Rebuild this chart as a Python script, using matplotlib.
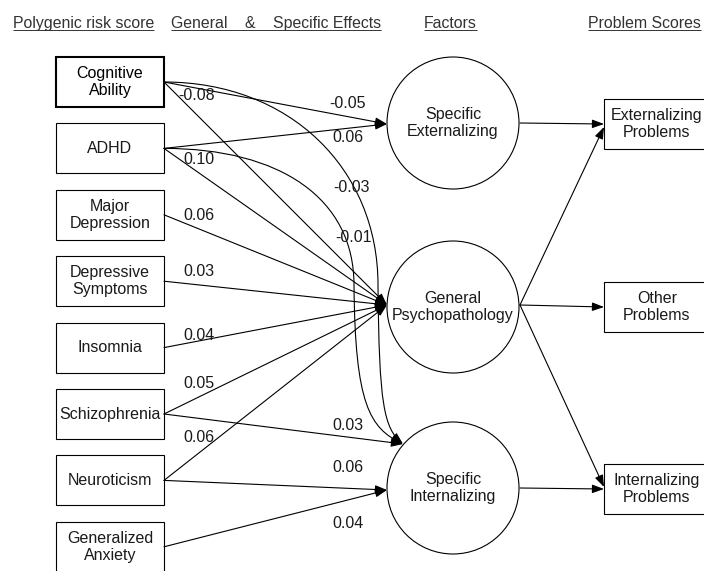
import matplotlib
matplotlib.use('Agg')
import matplotlib.pyplot as plt
from matplotlib.patches import Rectangle, Circle, FancyArrowPatch
from matplotlib.path import Path

plt.rcParams['font.family'] = ['Liberation Sans', 'DejaVu Sans']

# ---- data ----
headers = ['Polygenic risk score', 'General    &    Specific Effects', 'Factors', 'Problem Scores']
prs = ['Cognitive\nAbility', 'ADHD', 'Major\nDepression', 'Depressive\nSymptoms',
       'Insomnia', 'Schizophrenia', 'Neuroticism', 'Generalized\nAnxiety']
factors = ['Specific\nExternalizing', 'General\nPsychopathology', 'Specific\nInternalizing']
problems = ['Externalizing\nProblems', 'Other\nProblems', 'Internalizing\nProblems']

# PRS -> factor paths (source index, coefficient)
ext_from = [0, 1]
ext_coef = [-0.05, 0.06]
gen_from = [0, 1, 2, 3, 4, 5, 6]
gen_coef = [-0.08, 0.10, 0.06, 0.03, 0.04, 0.05, 0.06]
int_from = [0, 1, 5, 6, 7]
int_coef = [-0.03, -0.01, 0.03, 0.06, 0.04]
# factor -> problem score paths
fac_to_prob = [(0, 0), (1, 0), (1, 1), (1, 2), (2, 2)]

# ---- layout (pixels) ----
W, H = 704, 571
box_x, box_w, box_h = 56, 108, 50
row_y = [82 + 66.4 * i for i in range(len(prs))]
fac_x, fac_r = 453, 66
fac_y = [123, 307, 488]
prob_x, prob_w = 604, 108
prob_y = [124, 307, 489]
header_x = [13, 171, 424, 588]
header_base = 28

ext_label_xy = [(347, 103), (348, 138)]
gen_label_xy = [(197, 96), (199, 159), (199, 215), (199, 272), (199, 336), (199, 384), (199, 437)]
int_label_xy = [(351, 188), (354, 237), (348, 426), (348, 467), (348, 524)]

fig = plt.figure(figsize=(W / 100, H / 100), dpi=100)
ax = fig.add_axes([0, 0, 1, 1])
ax.set_xlim(0, W)
ax.set_ylim(H, 0)
ax.axis('off')

LW = 0.8
FS = 11.5
TXT = '#1a1a1a'
LS = 1.2


def arrow(verts, codes=None):
    if codes is None:
        codes = [Path.MOVETO] + [Path.LINETO] * (len(verts) - 1)
    a = FancyArrowPatch(path=Path(verts, codes),
                        arrowstyle='-|>,head_length=0.55,head_width=0.2',
                        mutation_scale=13, lw=LW, color='black', zorder=2)
    ax.add_patch(a)


# headers with underline
htexts = []
for hx, h in zip(header_x, headers):
    htexts.append(ax.text(hx, header_base, h, fontsize=11.4, color='#333333',
                          ha='left', va='baseline'))

# predictor boxes
for i, (name, y) in enumerate(zip(prs, row_y)):
    bold = i == 0
    ax.add_patch(Rectangle((box_x, y - box_h / 2), box_w, box_h, fill=False,
                           lw=1.5 if bold else LW, ec='black', zorder=3))
    ax.text(box_x + box_w / 2, y, name, ha='center', va='center', fontsize=FS,
            color='black' if bold else TXT, linespacing=LS, zorder=4)

# factor circles
for name, y in zip(factors, fac_y):
    ax.add_patch(Circle((fac_x, y), fac_r, fill=False, lw=LW, ec='black', zorder=3))
    ax.text(fac_x, y, name, ha='center', va='center', fontsize=FS, color=TXT,
            linespacing=LS, zorder=4)

# problem boxes (run off the right edge)
for name, y in zip(problems, prob_y):
    ax.add_patch(Rectangle((prob_x, y - box_h / 2), prob_w, box_h, fill=False,
                           lw=LW, ec='black', zorder=3))
    ax.text(prob_x + 53, y, name, ha='center', va='center', fontsize=FS, color=TXT,
            linespacing=LS, zorder=4)

src_x = box_x + box_w
left_port = fac_x - fac_r

# to Specific Externalizing
for i, c, (lx, ly) in zip(ext_from, ext_coef, ext_label_xy):
    arrow([(src_x, row_y[i]), (left_port, fac_y[0] + 1)])
    ax.text(lx, ly, f'{c:.2f}', ha='center', va='center', fontsize=FS, color=TXT)

# to General Psychopathology
for i, c, (lx, ly) in zip(gen_from, gen_coef, gen_label_xy):
    arrow([(src_x, row_y[i]), (left_port, fac_y[1] - 2)])
    ax.text(lx, ly, f'{c:.2f}', ha='center', va='center', fontsize=FS, color=TXT)

# to Specific Internalizing
top_left = (fac_x - 50, fac_y[2] - 44)
bend_x = {0: left_port - 9, 1: left_port - 33}
for i, c, (lx, ly) in zip(int_from, int_coef, int_label_xy):
    sy = row_y[i]
    if i in bend_x:
        bx = bend_x[i]
        verts = [(src_x, sy),
                 (src_x + 126 if i == 0 else src_x + 116, sy), (bx, sy + 87 if i == 0 else sy + 50), (bx, 285),
                 (bx + 1, 405), (bx + 6 if i == 0 else bx + 16, 428), top_left]
        codes = [Path.MOVETO] + [Path.CURVE4] * 6
        arrow(verts, codes)
    elif i == 5:
        arrow([(src_x, sy), top_left])
    else:
        arrow([(src_x, sy), (left_port, fac_y[2] + 2)])
    ax.text(lx, ly, f'{c:.2f}', ha='center', va='center', fontsize=FS, color=TXT)

# factors -> problem scores
for f, p in fac_to_prob:
    ty = prob_y[p]
    if f != p:
        ty = ty + (3 if prob_y[p] < fac_y[f] else -2)
    arrow([(fac_x + fac_r + 1, fac_y[f] - (2 if f == 1 else 0)), (prob_x, ty)])

fig.canvas.draw()
for t in htexts:
    bb = t.get_window_extent()
    ax.plot([bb.x0, bb.x1], [header_base + 2, header_base + 2],
            color='#333333', lw=0.7, solid_capstyle='butt')

fig.savefig('out.png', dpi=100)
